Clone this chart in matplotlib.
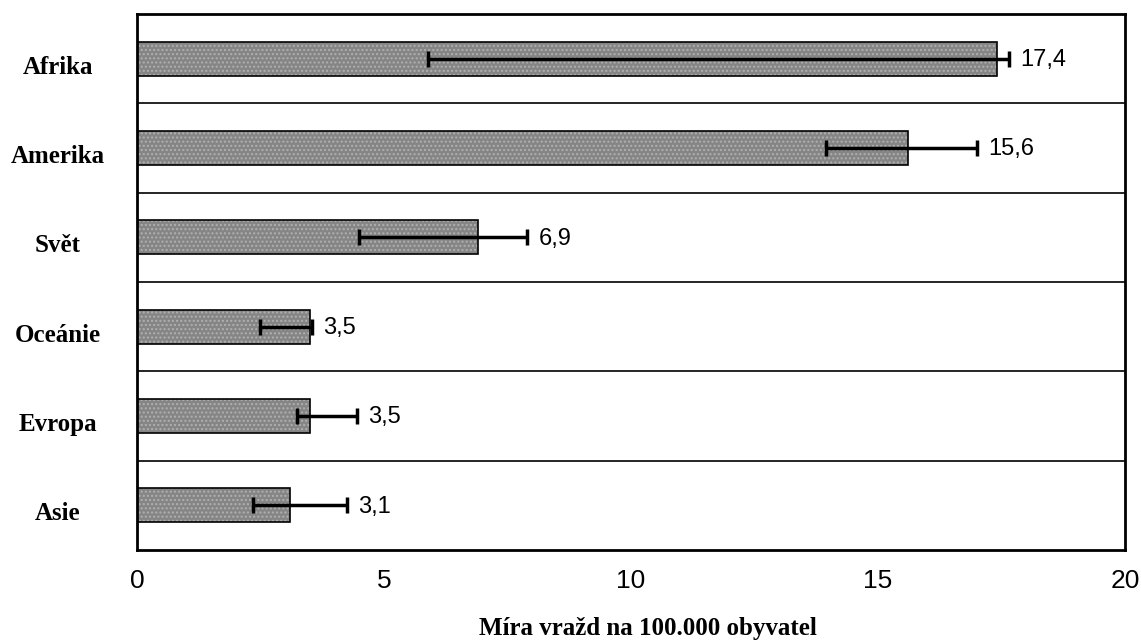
import numpy as np
import matplotlib
matplotlib.use('Agg')
import matplotlib.pyplot as plt

# data
regions = ['Afrika', 'Amerika', 'Svět', 'Oceánie', 'Evropa', 'Asie']
rates = [17.4, 15.6, 6.9, 3.5, 3.5, 3.1]
err_low = [5.9, 13.95, 4.5, 2.5, 3.25, 2.35]
err_high = [17.65, 17.0, 7.9, 3.55, 4.45, 4.25]
value_labels = ['17,4', '15,6', '6,9', '3,5', '3,5', '3,1']
xticks = [0, 5, 10, 15, 20]

serif = ['Liberation Serif', 'DejaVu Serif']
sans = ['Liberation Sans Narrow', 'Liberation Sans', 'DejaVu Sans']

fig = plt.figure(figsize=(11.41, 6.41), dpi=100)
ax = fig.add_axes([0.12, 0.142, 0.866, 0.836])

y = np.arange(len(regions))[::-1]
rates = np.array(rates)
xerr = np.array([rates - np.array(err_low), np.array(err_high) - rates])

# hatched fill, then black outline on top
ax.barh(y, rates, height=0.38, color='#858585', edgecolor='#b0b0b0',
        hatch='....', linewidth=0, zorder=2)
ax.barh(y, rates, height=0.38, fill=False, edgecolor='black',
        linewidth=1.2, zorder=3)
ax.errorbar(rates, y, xerr=xerr, fmt='none', ecolor='black',
            elinewidth=2.5, capsize=6, capthick=2.5, zorder=4)

for yi, hi, lab in zip(y, err_high, value_labels):
    ax.annotate(lab, (hi, yi), xytext=(8, -1), textcoords='offset points',
                ha='left', va='center', fontsize=17, family=sans)

# band separators
for b in y[1:]:
    ax.axhline(b + 0.5, color='black', linewidth=1.2, zorder=1)

ax.set_xlim(0, 20)
ax.set_ylim(-0.5, len(regions) - 0.5)
ax.set_xticks(xticks)
ax.set_xticklabels([str(t) for t in xticks], fontsize=19, family=sans)
ax.set_yticks([])
# category names, centred left of the axis, a bit below the bar centre
for yi, name in zip(y, regions):
    ax.annotate(name, (0, yi), xycoords=('axes fraction', 'data'),
                xytext=(-57, -6), textcoords='offset points',
                ha='center', va='center', fontsize=18, fontweight='bold',
                family=serif)
ax.tick_params(axis='x', length=0, pad=14)
ax.set_xlabel('Míra vražd na 100.000 obyvatel', fontsize=18,
              fontweight='bold', family=serif)
ax.xaxis.set_label_coords(0.517, -0.125)

for s in ax.spines.values():
    s.set_linewidth(2)

fig.savefig('out.png', dpi=100)
